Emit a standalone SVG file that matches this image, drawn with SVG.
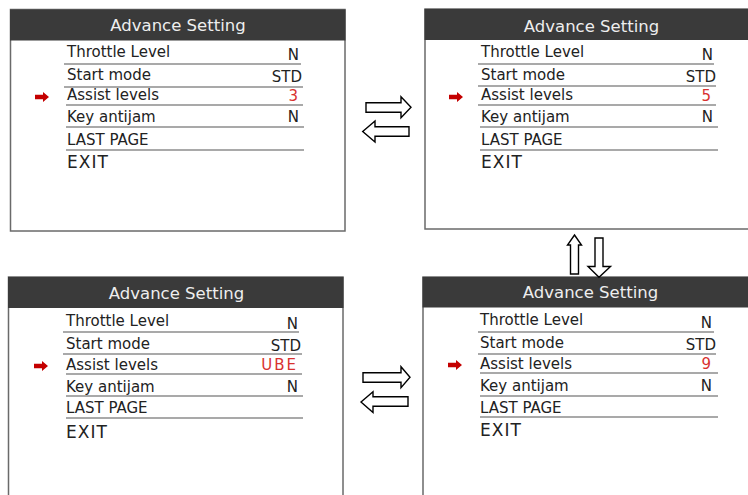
<svg xmlns="http://www.w3.org/2000/svg" width="748" height="495" viewBox="0 0 748 495">
<style>
.frame{fill:#fff;stroke:#6a6a6a;stroke-width:1.5}
.hdr{fill:#3a3a3a}
.ttl{font-family:"DejaVu Sans",Verdana,sans-serif;font-size:16.5px;fill:#eeeeee;text-anchor:middle}
.lbl{font-family:"DejaVu Sans",Verdana,sans-serif;font-size:15px;fill:#222}
.val{font-family:"DejaVu Sans",Verdana,sans-serif;font-size:15px;fill:#222;text-anchor:end}
.red{fill:#d8312f}
.exit{font-family:"DejaVu Sans",Verdana,sans-serif;font-size:17px;fill:#222;letter-spacing:1px}
.sep{stroke:#8c8c8c;stroke-width:1.5}
.blk{fill:#fff;stroke:#000;stroke-width:1.4;stroke-linejoin:miter}
</style>
<defs>
<path id="ptr" d="M0,-2.2 H8 V-5 L14,0 L8,5 V2.2 H0 Z" fill="#c40000"/>
</defs>
<rect width="748" height="495" fill="#fff"/>

<g id="panel-tl">
<rect class="frame" x="10.5" y="9.5" width="334.5" height="221.5"/>
<rect class="hdr" x="10" y="9.5" width="335.5" height="31"/>
<text class="ttl" x="178" y="31">Advance Setting</text>
<text class="lbl" x="67" y="57">Throttle Level</text><text class="val" x="299" y="60">N</text>
<line class="sep" x1="64" y1="64" x2="301" y2="64"/>
<text class="lbl" x="67" y="80">Start mode</text><text class="val" x="302" y="82">STD</text>
<line class="sep" x1="64" y1="87" x2="303" y2="87"/>
<use href="#ptr" x="35" y="97"/>
<text class="lbl" x="67" y="100">Assist levels</text><text class="val red" x="298" y="101">3</text>
<line class="sep" x1="66" y1="105" x2="303" y2="105"/>
<text class="lbl" x="67" y="122">Key antijam</text><text class="val" x="299" y="122">N</text>
<line class="sep" x1="66" y1="127" x2="304" y2="127"/>
<text class="lbl" x="67" y="145">LAST PAGE</text>
<line class="sep" x1="66" y1="150" x2="304" y2="150"/>
<text class="exit" x="67" y="168">EXIT</text>
</g>

<g id="panel-tr">
<rect class="frame" x="425" y="9" width="330" height="220"/>
<rect class="hdr" x="424.5" y="9" width="330" height="31"/>
<text class="ttl" x="591.5" y="31.5">Advance Setting</text>
<text class="lbl" x="481" y="57">Throttle Level</text><text class="val" x="713" y="60">N</text>
<line class="sep" x1="478" y1="64" x2="714" y2="64"/>
<text class="lbl" x="481" y="80">Start mode</text><text class="val" x="716" y="82">STD</text>
<line class="sep" x1="478" y1="86" x2="716" y2="86"/>
<use href="#ptr" x="449" y="97"/>
<text class="lbl" x="481" y="100">Assist levels</text><text class="val red" x="711" y="101">5</text>
<line class="sep" x1="478" y1="105" x2="716" y2="105"/>
<text class="lbl" x="481" y="122">Key antijam</text><text class="val" x="713" y="122">N</text>
<line class="sep" x1="480" y1="127" x2="718" y2="127"/>
<text class="lbl" x="481" y="145">LAST PAGE</text>
<line class="sep" x1="480" y1="150" x2="718" y2="150"/>
<text class="exit" x="481" y="168">EXIT</text>
</g>

<g id="panel-bl">
<rect class="frame" x="8.5" y="277" width="334.5" height="230"/>
<rect class="hdr" x="8" y="277" width="335.5" height="31"/>
<text class="ttl" x="176.5" y="299">Advance Setting</text>
<text class="lbl" x="66" y="326">Throttle Level</text><text class="val" x="298" y="329">N</text>
<line class="sep" x1="63" y1="332" x2="299" y2="332"/>
<text class="lbl" x="66" y="349">Start mode</text><text class="val" x="301" y="351">STD</text>
<line class="sep" x1="63" y1="354" x2="302" y2="354"/>
<use href="#ptr" x="34" y="366"/>
<text class="lbl" x="66" y="370">Assist levels</text><text class="val red" x="298" y="370" letter-spacing="2">UBE</text>
<line class="sep" x1="66" y1="374" x2="302" y2="374"/>
<text class="lbl" x="66" y="392">Key antijam</text><text class="val" x="298" y="392">N</text>
<line class="sep" x1="66" y1="396" x2="303" y2="396"/>
<text class="lbl" x="66" y="413">LAST PAGE</text>
<line class="sep" x1="66" y1="418" x2="303" y2="418"/>
<text class="exit" x="66" y="438">EXIT</text>
</g>

<g id="panel-br">
<rect class="frame" x="423" y="277" width="335" height="230"/>
<rect class="hdr" x="422.5" y="277" width="335" height="30.5"/>
<text class="ttl" x="590.5" y="298">Advance Setting</text>
<text class="lbl" x="480" y="325">Throttle Level</text><text class="val" x="712" y="328">N</text>
<line class="sep" x1="478" y1="332" x2="714" y2="332"/>
<text class="lbl" x="480" y="348">Start mode</text><text class="val" x="716" y="350">STD</text>
<line class="sep" x1="478" y1="354" x2="716" y2="354"/>
<use href="#ptr" x="448" y="365"/>
<text class="lbl" x="480" y="369">Assist levels</text><text class="val red" x="711" y="369">9</text>
<line class="sep" x1="480" y1="373" x2="718" y2="373"/>
<text class="lbl" x="480" y="391">Key antijam</text><text class="val" x="712" y="391">N</text>
<line class="sep" x1="480" y1="396" x2="718" y2="396"/>
<text class="lbl" x="480" y="413">LAST PAGE</text>
<line class="sep" x1="480" y1="417" x2="718" y2="417"/>
<text class="exit" x="480" y="436">EXIT</text>
</g>

<g id="connectors">
<polygon class="blk" points="366,102.7 401,102.7 401,96.7 411,107.3 401,117.7 401,112.3 366,112.3"/>
<polygon class="blk" points="362.7,131.5 375,121 375,126.7 409,126.7 409,136.3 375,136.3 375,142"/>
<polygon class="blk" points="574.5,235 581.5,245 578.5,245 578.5,274 570.5,274 570.5,245 567.5,245"/>
<polygon class="blk" points="595,238 603,238 603,266.5 610.5,266.5 599,277.3 588,266.5 595,266.5"/>
<polygon class="blk" points="363,372.7 401,372.7 401,366.7 410,377.3 401,387.7 401,382.3 363,382.3"/>
<polygon class="blk" points="361,402 373,391.7 373,396.7 408,396.7 408,406.3 373,406.3 373,412.5"/>
</g>
</svg>
